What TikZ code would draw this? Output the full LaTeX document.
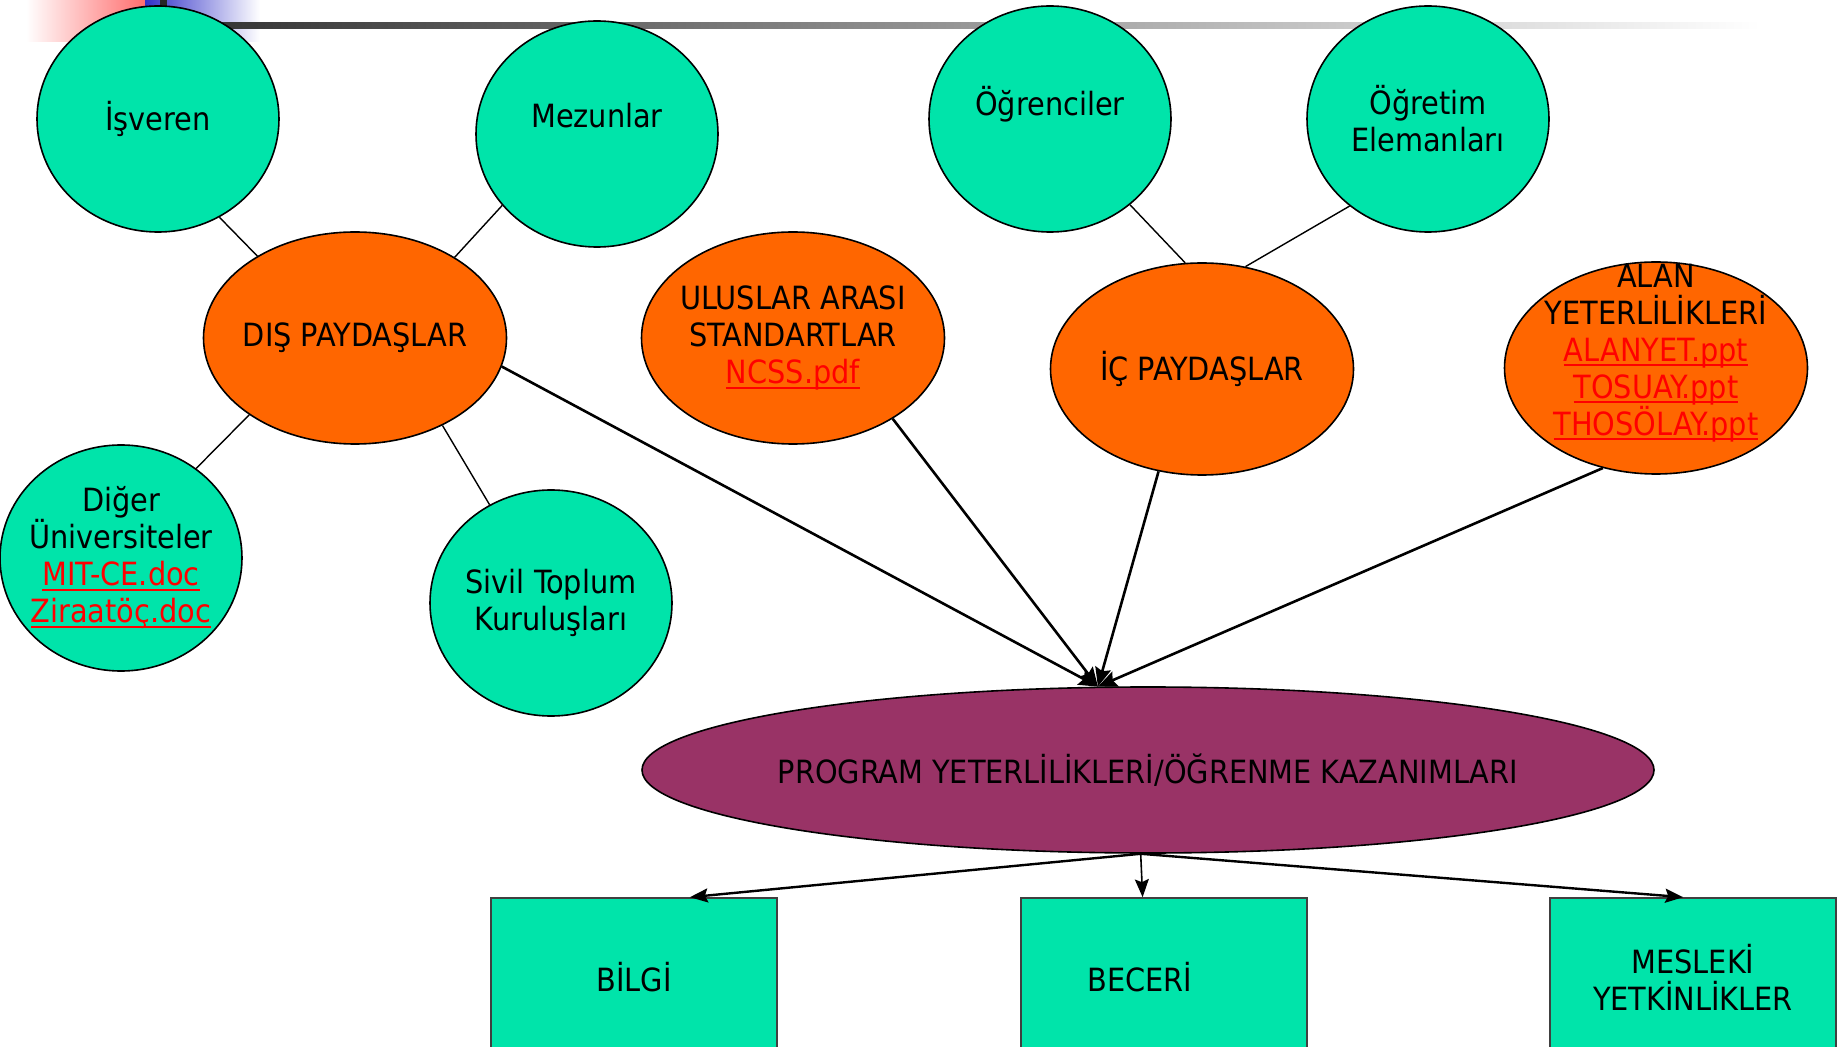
\documentclass[tikz,border=0pt]{standalone}
\usepackage{fontspec}
\setmainfont{DejaVu Sans Condensed}
\usetikzlibrary{shapes.geometric, arrows.meta}

\definecolor{stakegreen}{RGB}{0,228,170}
\definecolor{stakeorange}{RGB}{255,102,0}
\definecolor{outcomeplum}{RGB}{153,51,102}
\definecolor{cornerred}{RGB}{255,110,110}
\definecolor{cornerblue}{RGB}{50,50,200}

\newcommand{\filelink}[1]{\textcolor{red}{\setbox0\hbox{#1}%
  \rlap{\rule[-2.5pt]{\wd0}{0.9pt}}\box0}}

\tikzset{
  inscr/.style={align=center, inner sep=0pt},
  stake/.style={ellipse, draw, fill=stakegreen, line width=0.8pt, inner sep=0pt,
    minimum width=121pt, minimum height=113pt},
  group/.style={ellipse, draw, fill=stakeorange, line width=0.8pt, inner sep=0pt,
    minimum width=151.5pt, minimum height=106pt},
  outcome/.style={rectangle, draw=black!75, fill=stakegreen, line width=0.8pt,
    minimum width=143pt, minimum height=79pt, align=center},
  tie/.style={line width=0.7pt},
  feed/.style={line width=1.3pt, -{Stealth[length=9.5pt, width=8pt, inset=1.5pt]}},
  split/.style={line width=1.2pt, -{Stealth[length=9pt, width=7pt, inset=1.5pt]}},
}

\begin{document}
\begin{tikzpicture}[x=0.5pt, y=-0.5pt, font=\fontsize{16}{18.5}\selectfont]
  \useasboundingbox (0,0) rectangle (1847,1047);

  % slide corner and top rule
  \shade[left color=white, right color=cornerred] (26,0) rectangle (145,42);
  \shade[left color=cornerblue, right color=white] (145,0) rectangle (260,42);
  \fill[black!85] (160,0) rectangle (167,12);
  \shade[left color=black!80, middle color=black!20, right color=white]
    (200,23) rectangle (1760,29);

  % stakeholders
  \node[stake, label={[inscr]center:İşveren}] (isveren) at (158,119) {};
  \node[stake, label={[inscr]center:{Mezunlar\\~}}] (mezunlar) at (597,134) {};
  \node[stake, label={[inscr]center:{Öğrenciler\\~}}] (ogrenciler) at (1050,119) {};
  \node[stake, label={[inscr]center:{Öğretim\\Elemanları}}] (ogretim) at (1428,119) {};
  \node[stake, label={[inscr]center:{Diğer\\Üniversiteler\\\filelink{MIT-CE.doc}\\\filelink{Ziraatöç.doc}}}]
    (diger) at (121,558) {};
  \node[stake, label={[inscr]center:{Sivil Toplum\\Kuruluşları}}] (sivil) at (551,603) {};

  % groups
  \node[group, label={[inscr]center:DIŞ PAYDAŞLAR}] (dis) at (355,338) {};
  \node[group, label={[inscr]center:{ULUSLAR ARASI\\STANDARTLAR\\\filelink{NCSS.pdf}}}]
    (uluslar) at (793,338) {};
  \node[group, label={[inscr]center:İÇ PAYDAŞLAR}] (ic) at (1202,369) {};
  \node[group, label={[inscr]center:{ALAN\\YETERLİLİKLERİ\\\filelink{ALANYET.ppt}\\\filelink{TOSUAY.ppt}\\\filelink{THOSÖLAY.ppt}\\~}}]
    (alan) at (1656,368) {};

  % outcomes
  \node[ellipse, draw, fill=outcomeplum, line width=0.8pt, inner sep=0pt,
    minimum width=506pt, minimum height=83pt,
    label={[inscr]center:PROGRAM YETERLİLİKLERİ/ÖĞRENME KAZANIMLARI}]
    (program) at (1148,770) {};
  \node[outcome] (bilgi) at (634,977) {BİLGİ};
  \node[outcome] (beceri) at (1164,977) {BECERİ\hspace*{24pt}};
  \node[outcome] (mesleki) at (1693,977) {MESLEKİ\\YETKİNLİKLER};

  \draw[tie] (isveren.-58) -- (dis.140);
  \draw[tie] (mezunlar.-143) -- (dis.39);
  \draw[tie] (dis.-144) -- (diger.50);
  \draw[tie] (dis.-45) -- (sivil.122);
  \draw[tie] (ogrenciler.-47) -- (ic.99);
  \draw[tie] (ogretim.-132) -- (ic.67);

  \draw[feed] (dis.-11.5) -- (program.121.7);
  \draw[feed] (uluslar.-39) -- (program.121.7);
  \draw[feed] (ic.-113) -- (program.121.7);
  \draw[feed] (alan.-118) -- (program.121.7);

  \draw[split] (program.-95) -- (bilgi.55.2);
  \draw[split, line width=0.8pt] (program.-95) -- (beceri.105);
  \draw[split] (program.-95) -- (mesleki.97);
\end{tikzpicture}
\end{document}
